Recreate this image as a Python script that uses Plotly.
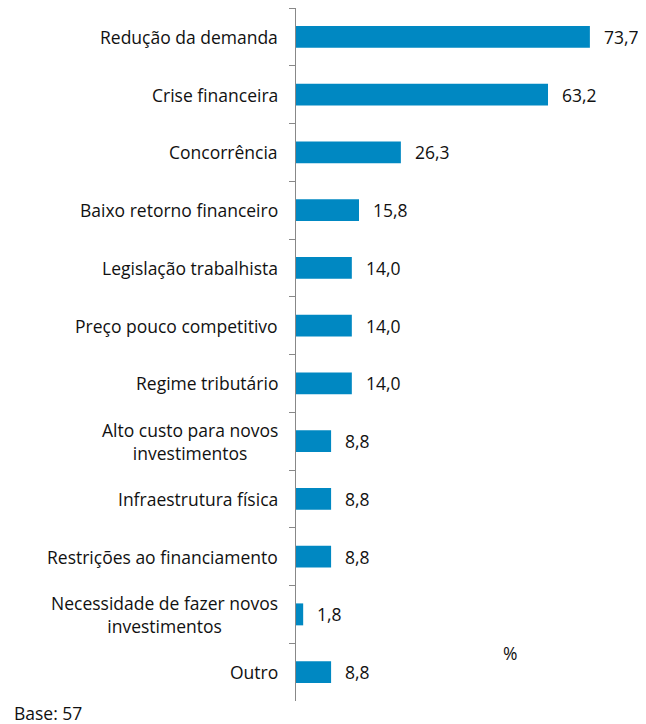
import plotly.graph_objects as go

categories = [
    "Redução da demanda",
    "Crise financeira",
    "Concorrência",
    "Baixo retorno financeiro",
    "Legislação trabalhista",
    "Preço pouco competitivo",
    "Regime tributário",
    "Alto custo para novos<br>investimentos",
    "Infraestrutura física",
    "Restrições ao financiamento",
    "Necessidade de fazer novos<br>investimentos",
    "Outro",
]
values = [73.7, 63.2, 26.3, 15.8, 14.0, 14.0, 14.0, 8.8, 8.8, 8.8, 1.8, 8.8]

FONT = "Open Sans, sans-serif"
FS = 17.5
color = "#0088C2"

# page offset (browser body margin) compensation
OX, OY = 8, 8
W, H = 646 - OX, 724 - OY
l, r, t, b = 296 - OX, 31, 0, 724 - 701
pw, ph = W - l - r, H - t - b

fig = go.Figure(go.Bar(
    x=values, y=categories, orientation="h",
    marker=dict(color=color, line=dict(width=0)),
    width=0.38,
))

ann = []
for c, v in zip(categories, values):
    ann.append(dict(x=v, y=c, xref="x", yref="y", text=f"{v:.1f}".replace(".", ","),
                    showarrow=False, xanchor="left", xshift=12,
                    font=dict(family=FONT, size=FS, color="#111")))
    ann.append(dict(x=0, y=c, xref="paper", yref="y", text=c, showarrow=False,
                    xanchor="right", xshift=-16, align="center",
                    font=dict(family=FONT, size=FS, color="#111")))
ann.append(dict(x=(510 - OX - l) / pw, y=(H - b - (653 - OY)) / ph, xref="paper", yref="paper",
                text="%", showarrow=False, xanchor="center", yanchor="middle",
                font=dict(family=FONT, size=FS, color="#111")))
ann.append(dict(x=(12 - OX - l) / pw, y=(H - b - (713 - OY)) / ph, xref="paper", yref="paper",
                text="Base: 57", showarrow=False, xanchor="left", yanchor="middle",
                font=dict(family=FONT, size=FS, color="#111")))

fig.update_layout(
    width=W, height=H,
    margin=dict(l=l, r=r, t=t, b=b),
    plot_bgcolor="white", paper_bgcolor="white",
    showlegend=False,
    xaxis=dict(range=[0, 80], visible=False),
    yaxis=dict(autorange="reversed", showticklabels=False, showline=True,
               linecolor="#888", linewidth=1, ticks="outside", ticklen=6,
               tickcolor="#888", tickson="boundaries", showgrid=False),
    annotations=ann,
)
fig.write_html("out.html")
